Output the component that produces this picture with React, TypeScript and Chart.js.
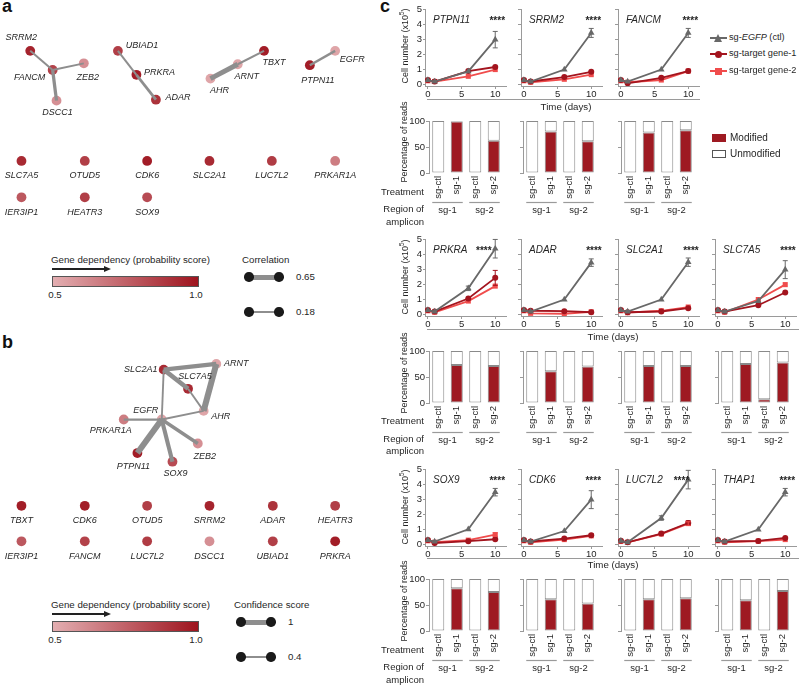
import React, { useEffect, useRef } from "react";
import { Chart, registerables } from "chart.js";
Chart.register(...registerables);

const FONT = "'Liberation Sans', Arial, Helvetica, sans-serif";
const TXT = "#262626";
const AXIS = "#9a9a9a";
const C_CTL = "#686868";
const C_SG1 = "#a3141e";
const C_SG2 = "#f04c4c";
const C_MOD = "#9e1a22";
const EDGE = "#8e8e8e";

Chart.defaults.font.family = FONT;
Chart.defaults.color = TXT;

// ================= Panel c data =================
const DAYS = [0, 1, 6, 10];
const GENES = ["PTPN11", "SRRM2", "FANCM", "PRKRA", "ADAR", "SLC2A1", "SLC7A5", "SOX9", "CDK6", "LUC7L2", "THAP1"];
const CTL = [
  [0.3, 0.2, 0.88, 3.0],
  [0.3, 0.2, 1.0, 3.45],
  [0.3, 0.2, 1.0, 3.45],
  [0.3, 0.2, 1.75, 4.4],
  [0.3, 0.2, 1.0, 3.47],
  [0.3, 0.2, 1.0, 3.5],
  [0.3, 0.2, 0.9, 3.0],
  [0.3, 0.2, 1.02, 3.5],
  [0.3, 0.2, 0.9, 3.0],
  [0.25, 0.15, 1.77, 4.34],
  [0.3, 0.2, 1.0, 3.5],
];
const CTL_ERR = [
  [0.05, 0.03, 0.1, 0.55],
  [0.05, 0.03, 0.08, 0.3],
  [0.05, 0.03, 0.08, 0.3],
  [0.05, 0.03, 0.15, 0.62],
  [0.05, 0.03, 0.08, 0.25],
  [0.05, 0.03, 0.08, 0.28],
  [0.05, 0.03, 0.1, 0.6],
  [0.05, 0.03, 0.08, 0.25],
  [0.05, 0.03, 0.1, 0.6],
  [0.05, 0.03, 0.15, 0.62],
  [0.05, 0.03, 0.08, 0.25],
];
const SG1 = [
  [0.3, 0.2, 0.9, 1.17],
  [0.3, 0.2, 0.5, 0.85],
  [0.3, 0.08, 0.45, 0.9],
  [0.3, 0.2, 1.07, 2.45],
  [0.3, 0.25, 0.22, 0.15],
  [0.3, 0.15, 0.2, 0.42],
  [0.3, 0.2, 0.62, 1.47],
  [0.3, 0.1, 0.22, 0.35],
  [0.3, 0.2, 0.4, 0.62],
  [0.25, 0.15, 0.73, 1.44],
  [0.3, 0.2, 0.24, 0.44],
];
const SG1_ERR = [
  [0.03, 0.02, 0.05, 0.08],
  [0.03, 0.02, 0.05, 0.08],
  [0.03, 0.02, 0.05, 0.08],
  [0.03, 0.02, 0.08, 0.5],
  [0.03, 0.02, 0.04, 0.05],
  [0.03, 0.02, 0.04, 0.06],
  [0.03, 0.02, 0.05, 0.08],
  [0.03, 0.02, 0.04, 0.05],
  [0.03, 0.02, 0.05, 0.08],
  [0.03, 0.02, 0.06, 0.15],
  [0.03, 0.02, 0.04, 0.05],
];
const SG2 = [
  [0.25, 0.2, 0.55, 1.0],
  [0.25, 0.15, 0.35, 0.66],
  [0.25, 0.15, 0.3, 0.9],
  [0.25, 0.15, 0.9, 1.9],
  [0.25, 0.08, 0.05, 0.18],
  [0.25, 0.12, 0.25, 0.5],
  [0.25, 0.15, 1.0, 2.0],
  [0.25, 0.15, 0.29, 0.66],
  [0.25, 0.15, 0.33, 0.58],
  [0.2, 0.15, 0.7, 1.4],
  [0.25, 0.15, 0.22, 0.33],
];
const SG2_ERR = [
  [0.03, 0.02, 0.05, 0.06],
  [0.03, 0.02, 0.05, 0.06],
  [0.03, 0.02, 0.05, 0.06],
  [0.03, 0.02, 0.06, 0.1],
  [0.03, 0.02, 0.03, 0.05],
  [0.03, 0.02, 0.04, 0.06],
  [0.03, 0.02, 0.06, 0.08],
  [0.03, 0.02, 0.05, 0.12],
  [0.03, 0.02, 0.05, 0.08],
  [0.03, 0.02, 0.06, 0.12],
  [0.03, 0.02, 0.04, 0.05],
];
const SIGNIF = "****";

// CRISPR reads (% modified); unmodified is the remainder to 100
const READ_CATS = ["sg-ctl", "sg-1", "sg-ctl", "sg-2"];
const AMPLICON_GROUPS = ["sg-1", "sg-2"];
const MODIFIED = [
  [0, 99, 0, 62],
  [0, 80, 0, 61],
  [0, 78, 0, 82],
  [0, 73, 0, 71],
  [0, 61, 0, 70],
  [0, 71, 0, 71],
  [0, 75, 7, 78],
  [0, 82, 0, 75],
  [0, 61, 0, 53],
  [0, 61, 0, 63],
  [0, 59, 0, 77],
];

// ================= Panels a / b data =================
const DEPENDENCY: Record<string, number> = {
  SRRM2: 0.95, FANCM: 0.85, ZEB2: 0.6, DSCC1: 0.6, UBIAD1: 0.86, PRKRA: 0.97, ADAR: 0.9,
  TBXT: 0.97, ARNT: 0.53, AHR: 0.53, EGFR: 0.53, PTPN11: 0.97, SLC7A5: 0.93, OTUD5: 0.86,
  CDK6: 0.97, SLC2A1: 0.93, LUC7L2: 0.87, PRKAR1A: 0.66, IER3IP1: 0.78, HEATR3: 0.86, SOX9: 0.82,
};
const A_NODES = ["SRRM2", "FANCM", "ZEB2", "DSCC1", "UBIAD1", "PRKRA", "ADAR", "TBXT", "ARNT", "AHR", "EGFR", "PTPN11",
  "SLC7A5", "OTUD5", "CDK6", "SLC2A1", "LUC7L2", "PRKAR1A", "IER3IP1", "HEATR3", "SOX9"];
const A_EDGES: [string, string, number][] = [
  ["SRRM2", "FANCM", 0.25], ["FANCM", "ZEB2", 0.22], ["FANCM", "DSCC1", 0.42],
  ["UBIAD1", "PRKRA", 0.25], ["PRKRA", "ADAR", 0.35],
  ["TBXT", "ARNT", 0.25], ["ARNT", "AHR", 0.65],
  ["PTPN11", "EGFR", 0.3],
];
const B_NODES = ["SLC2A1", "ARNT", "SLC7A5", "AHR", "EGFR", "PRKAR1A", "ZEB2", "PTPN11", "SOX9",
  "TBXT", "CDK6", "OTUD5", "SRRM2", "ADAR", "HEATR3", "IER3IP1", "FANCM", "LUC7L2", "DSCC1", "UBIAD1", "PRKRA"];
const B_EDGES: [string, string, number][] = [
  ["SLC2A1", "ARNT", 0.8], ["SLC2A1", "SLC7A5", 0.8], ["ARNT", "AHR", 1.0], ["SLC7A5", "AHR", 0.45],
  ["SLC2A1", "EGFR", 0.45], ["EGFR", "AHR", 0.45], ["EGFR", "PRKAR1A", 0.5], ["EGFR", "PTPN11", 1.0],
  ["EGFR", "SOX9", 0.75], ["EGFR", "ZEB2", 0.65],
];

// ---- layout (positions in page pixels) ----
const A_POS: Record<string, [number, number]> = {
  SRRM2: [26, 48], FANCM: [49, 68], ZEB2: [81, 61], DSCC1: [53, 100],
  UBIAD1: [116, 48], PRKRA: [135, 73], ADAR: [155, 99],
  TBXT: [266, 48], ARNT: [239, 62], AHR: [211, 77],
  EGFR: [339, 48], PTPN11: [313, 63],
  SLC7A5: [17, 163], OTUD5: [82, 163], CDK6: [146, 163], SLC2A1: [210, 163], LUC7L2: [274, 163], PRKAR1A: [339, 163],
  IER3IP1: [17, 201], HEATR3: [82, 201], SOX9: [146, 201],
};
const A_LBL: Record<string, [number, number]> = {
  SRRM2: [-9, -13], FANCM: [-23, 7], ZEB2: [4, 14], DSCC1: [1, 12],
  UBIAD1: [24, -5], PRKRA: [23, -2], ADAR: [22, -2],
  TBXT: [10, 12], ARNT: [9, 12], AHR: [9, 12], EGFR: [17, 9], PTPN11: [8, 15],
};
const B_POS: Record<string, [number, number]> = {
  SLC2A1: [163, 366], ARNT: [217, 360], SLC7A5: [188, 386], AHR: [204, 409], EGFR: [161, 418],
  PRKAR1A: [122, 418], ZEB2: [198, 443], PTPN11: [136, 453], SOX9: [172, 462],
  TBXT: [17, 508], CDK6: [82, 508], OTUD5: [146, 508], SRRM2: [210, 508], ADAR: [275, 508], HEATR3: [339, 508],
  IER3IP1: [17, 545], FANCM: [82, 545], LUC7L2: [146, 545], DSCC1: [210, 545], UBIAD1: [275, 545], PRKRA: [339, 545],
};
const B_LBL: Record<string, [number, number]> = {
  SLC2A1: [-23, 0], ARNT: [20, 0], SLC7A5: [7, -12], AHR: [17, 6], EGFR: [-16, -9],
  PRKAR1A: [-13, 11], ZEB2: [7, 13], PTPN11: [-4, 13], SOX9: [3, 12],
};
const STAR_AT = [10.3, 10.3, 10.3, 8.3, 10.4, 10.4, 10.4, 10.3, 10.3, 9.0, 10.3];
const ROWS = [[0, 1, 2], [3, 4, 5, 6], [7, 8, 9, 10]];
const LINE_X = [425, 521, 618, 715];
const BAR_X = [429, 523, 621, 718];
const LINE_Y0 = [84.5, 314.3, 544.3];
const BAR_Y100 = [120.7, 350.7, 578.7];

// ================= helpers =================
const LO = [227, 174, 177];
const HI = [158, 20, 30];
function depColor(s: number) {
  const t = Math.max(0, Math.min(1, (s - 0.5) / 0.5));
  const c = LO.map((v, i) => Math.round(v + (HI[i] - v) * t));
  return `rgb(${c[0]},${c[1]},${c[2]})`;
}

const errorBars = {
  id: "errorBars",
  afterDatasetsDraw(chart: any) {
    const { ctx, scales } = chart;
    ctx.save();
    chart.data.datasets.forEach((ds: any, di: number) => {
      if (!ds.errs) return;
      const meta = chart.getDatasetMeta(di);
      ctx.strokeStyle = ds.borderColor;
      ctx.lineWidth = 1;
      meta.data.forEach((pt: any, i: number) => {
        const v = ds.data[i].y, e = ds.errs[i];
        const y1 = scales.y.getPixelForValue(v + e), y2 = scales.y.getPixelForValue(v - e);
        if (Math.abs(y2 - y1) < 3) return;
        ctx.beginPath();
        ctx.moveTo(pt.x, y1); ctx.lineTo(pt.x, y2);
        ctx.moveTo(pt.x - 2.5, y1); ctx.lineTo(pt.x + 2.5, y1);
        ctx.moveTo(pt.x - 2.5, y2); ctx.lineTo(pt.x + 2.5, y2);
        ctx.stroke();
      });
    });
    ctx.restore();
  },
};

function lineConfig(g: number, showY: boolean): any {
  const ds = (vals: number[], errs: number[], color: string, style: string, r: number, label: string) => ({
    label, errs,
    data: DAYS.map((d, i) => ({ x: d, y: vals[i] })),
    borderColor: color, backgroundColor: color, pointBackgroundColor: color, pointBorderColor: color,
    pointBorderWidth: 0, pointStyle: style, pointRadius: r, borderWidth: 1.8, showLine: true, tension: 0,
  });
  return {
    type: "scatter",
    data: {
      datasets: [
        ds(CTL[g], CTL_ERR[g], C_CTL, "triangle", 3.8, "sg-EGFP (ctl)"),
        ds(SG1[g], SG1_ERR[g], C_SG1, "circle", 3, "sg-target gene-1"),
        ds(SG2[g], SG2_ERR[g], C_SG2, "rect", 3.6, "sg-target gene-2"),
      ],
    },
    options: {
      responsive: false, animation: false, devicePixelRatio: 1,
      layout: { padding: { top: 4, right: 2, left: 0, bottom: 0 } },
      plugins: { legend: { display: false }, tooltip: { enabled: false } },
      scales: {
        x: {
          type: "linear", min: -0.43, max: 11.6,
          afterBuildTicks: (s: any) => { s.ticks = [0, 5, 10].map((v) => ({ value: v })); },
          afterFit: (s: any) => { s.height = 14; s.paddingLeft = 0; s.paddingRight = 0; },
          ticks: { font: { size: 9.5 }, color: TXT, padding: 0, maxRotation: 0 },
          grid: { display: true, drawOnChartArea: false, drawTicks: true, tickLength: 3, color: AXIS },
          border: { color: AXIS, width: 1 },
        },
        y: {
          min: -0.1, max: 5.05,
          afterBuildTicks: (s: any) => { s.ticks = [0, 1, 2, 3, 4, 5].map((v) => ({ value: v })); },
          afterFit: (s: any) => { s.width = 18; s.paddingTop = 0; s.paddingBottom = 0; },
          ticks: { display: showY, font: { size: 9.5 }, color: TXT, padding: 1 },
          grid: { display: true, drawOnChartArea: false, drawTicks: true, tickLength: showY ? 2 : 3, color: AXIS },
          border: { color: AXIS, width: 1 },
        },
      },
    },
    plugins: [
      errorBars,
      {
        id: "title" + g,
        afterDraw(chart: any) {
          const { ctx, chartArea, scales } = chart;
          ctx.save();
          ctx.fillStyle = TXT;
          ctx.textBaseline = "alphabetic";
          ctx.font = `italic 10px ${FONT}`;
          ctx.textAlign = "left";
          ctx.fillText(GENES[g], chartArea.left + 8, chartArea.top + 14);
          ctx.font = `bold 10px ${FONT}`;
          ctx.textAlign = "center";
          ctx.fillText(SIGNIF, scales.x.getPixelForValue(STAR_AT[g]), chartArea.top + 15);
          ctx.restore();
        },
      },
    ],
  };
}

function barConfig(g: number, showY: boolean): any {
  const mod = MODIFIED[g];
  const unmod = mod.map((v) => 100 - v);
  const common = { borderColor: "#8a8a8a", borderWidth: 1, borderSkipped: false, barPercentage: 0.65, categoryPercentage: 1 };
  return {
    type: "bar",
    data: {
      labels: READ_CATS,
      datasets: [
        { label: "Modified", data: mod, backgroundColor: C_MOD, ...common },
        { label: "Unmodified", data: unmod, backgroundColor: "#ffffff", ...common },
      ],
    },
    options: {
      responsive: false, animation: false, devicePixelRatio: 1,
      layout: { padding: { top: 4, right: 2, left: 0, bottom: 18 } },
      plugins: { legend: { display: false }, tooltip: { enabled: false } },
      scales: {
        x: {
          stacked: true,
          afterFit: (s: any) => { s.height = 27; s.paddingLeft = 0; s.paddingRight = 0; },
          ticks: { font: { size: 9.5 }, color: TXT, padding: 3, minRotation: 90, maxRotation: 90, autoSkip: false },
          grid: { display: false, drawTicks: false, tickLength: 0 },
          border: { display: false },
        },
        y: {
          stacked: true, min: 0, max: 100,
          afterBuildTicks: (s: any) => { s.ticks = [0, 50, 100].map((v) => ({ value: v })); },
          afterFit: (s: any) => { s.width = 30; s.paddingTop = 0; s.paddingBottom = 0; },
          ticks: { display: showY, font: { size: 9.5 }, color: TXT, padding: 1 },
          grid: { display: true, drawOnChartArea: false, drawTicks: true, tickLength: 3, color: AXIS },
          border: { color: AXIS, width: 1 },
        },
      },
    },
    plugins: [
      {
        id: "groups" + g,
        afterDraw(chart: any) {
          const { ctx, chartArea, scales } = chart;
          ctx.save();
          ctx.strokeStyle = AXIS;
          ctx.lineWidth = 1.2;
          ctx.fillStyle = TXT;
          ctx.font = `9.5px ${FONT}`;
          ctx.textAlign = "center";
          ctx.textBaseline = "middle";
          AMPLICON_GROUPS.forEach((lab, k) => {
            const x1 = scales.x.getPixelForValue(2 * k) - 6;
            const x2 = scales.x.getPixelForValue(2 * k + 1) + 6;
            const y = chartArea.bottom + 29.5;
            ctx.beginPath(); ctx.moveTo(x1, y); ctx.lineTo(x2, y); ctx.stroke();
            ctx.fillText(lab, (x1 + x2) / 2, chartArea.bottom + 37);
          });
          ctx.restore();
        },
      },
    ],
  };
}

function netConfig(nodes: string[], edges: [string, string, number][], pos: any, lbl: any,
  width: (c: number) => number, w: number, yTop: number, h: number): any {
  const edgeSets = edges.map(([a, b, c]) => ({
    data: [{ x: pos[a][0], y: pos[a][1] }, { x: pos[b][0], y: pos[b][1] }],
    showLine: true, borderColor: EDGE, borderWidth: width(c), pointRadius: 0, borderCapStyle: "butt",
  }));
  const nodeSet = {
    data: nodes.map((n) => ({ x: pos[n][0], y: pos[n][1] })),
    pointBackgroundColor: nodes.map((n) => depColor(DEPENDENCY[n])),
    pointBorderWidth: 0, pointRadius: 4.9, showLine: false,
  };
  return {
    type: "scatter",
    data: { datasets: [...edgeSets, nodeSet] },
    options: {
      responsive: false, animation: false, devicePixelRatio: 1,
      layout: { padding: 0 },
      plugins: { legend: { display: false }, tooltip: { enabled: false } },
      scales: {
        x: { type: "linear", display: false, min: 0, max: w },
        y: { type: "linear", display: false, min: yTop, max: yTop + h, reverse: true },
      },
    },
    plugins: [
      {
        id: "netLabels",
        afterDatasetsDraw(chart: any) {
          const { ctx, scales } = chart;
          ctx.save();
          ctx.font = `italic 9px ${FONT}`;
          ctx.fillStyle = TXT;
          ctx.textAlign = "center";
          ctx.textBaseline = "middle";
          nodes.forEach((n) => {
            const off = lbl[n] || [0, 15];
            ctx.fillText(n, scales.x.getPixelForValue(pos[n][0]) + off[0], scales.y.getPixelForValue(pos[n][1]) + off[1]);
          });
          ctx.restore();
        },
      },
    ],
  };
}

// ================= components =================
function ChartCanvas({ left, top, width, height, make }: any) {
  const ref = useRef<HTMLCanvasElement>(null);
  useEffect(() => {
    const chart = new Chart(ref.current as HTMLCanvasElement, make());
    return () => chart.destroy();
  }, []);
  return (
    <canvas ref={ref} width={width} height={height}
      style={{ position: "absolute", left, top, width, height, display: "block" }} />
  );
}

function Txt({ x, y, size = 9.5, align = "left", italic = false, bold = false, rotate = false, children, color = TXT }: any) {
  const tx = align === "left" ? "0" : align === "center" ? "-50%" : "-100%";
  return (
    <div style={{
      position: "absolute", left: x, top: y,
      transform: rotate ? "translate(-50%,-50%) rotate(-90deg)" : `translate(${tx},-50%)`,
      fontFamily: FONT, fontSize: size, fontStyle: italic ? "italic" : "normal",
      fontWeight: bold ? "bold" : "normal", lineHeight: 1, whiteSpace: "nowrap", color,
    }}>{children}</div>
  );
}

function Box({ x, y, w, h, bg, border, radius }: any) {
  return <div style={{ position: "absolute", left: x, top: y, width: w, height: h, background: bg, border, borderRadius: radius, boxSizing: "border-box" }} />;
}

function DepLegend({ top }: any) {
  return (
    <>
      <Txt x={51} y={top} size={9.7}>Gene dependency (probability score)</Txt>
      <Box x={52} y={top + 8.4} w={53} h={1.3} bg="#222" />
      <div style={{ position: "absolute", left: 104, top: top + 6, width: 0, height: 0, borderTop: "3px solid transparent", borderBottom: "3px solid transparent", borderLeft: "7px solid #222" }} />
      <Box x={52} y={top + 16} w={147} h={11} border="1px solid #555"
        bg={`linear-gradient(to right, ${depColor(0.5)}, ${depColor(1.0)})`} />
      <Txt x={55} y={top + 35} size={9.7} align="center">0.5</Txt>
      <Txt x={196} y={top + 35} size={9.7} align="center">1.0</Txt>
    </>
  );
}

function EdgeLegend({ x1, x2, y, w, label }: any) {
  return (
    <>
      <Box x={x1} y={y - w / 2} w={x2 - x1} h={w} bg={EDGE} />
      <Box x={x1 - 4.7} y={y - 4.7} w={9.4} h={9.4} bg="#1a1a1a" radius="50%" />
      <Box x={x2 - 4.7} y={y - 4.7} w={9.4} h={9.4} bg="#1a1a1a" radius="50%" />
      <Txt x={x2 + 17} y={y} size={9.7}>{label}</Txt>
    </>
  );
}

function LineLegendItem({ y, color, shape, children }: any) {
  let marker: any;
  if (shape === "tri") {
    marker = <div style={{ position: "absolute", left: 714, top: y - 4.5, width: 0, height: 0, borderLeft: "4.5px solid transparent", borderRight: "4.5px solid transparent", borderBottom: `8px solid ${color}` }} />;
  } else if (shape === "circle") {
    marker = <Box x={715} y={y - 3.5} w={7} h={7} bg={color} radius="50%" />;
  } else {
    marker = <Box x={715} y={y - 3.5} w={7} h={7} bg={color} />;
  }
  return (
    <>
      <Box x={710} y={y - 1} w={17} h={2} bg={color} />
      {marker}
      <Txt x={729} y={y} size={9.2}>{children}</Txt>
    </>
  );
}

export default function App() {
  const PXU = 77 / 5.15;
  const els: any[] = [];
  ROWS.forEach((genes, r) => {
    genes.forEach((g, c) => {
      els.push(
        <ChartCanvas key={"l" + g} left={LINE_X[c] - 18} top={Math.round(LINE_Y0[r] - 5.05 * PXU - 4)}
          width={103} height={95} make={() => lineConfig(g, c === 0)} />
      );
      els.push(
        <ChartCanvas key={"b" + g} left={BAR_X[c] - 30} top={Math.round(BAR_Y100[r] - 4)}
          width={106} height={101} make={() => barConfig(g, c === 0)} />
      );
    });
  });
  const timeY = [107, 337, 565];
  const timeLineY = [99, 329, 558];
  const timeLineEnd = [700, 799, 799];
  const timeX = [566, 613, 613];
  const cellY = [46, 277, 507];
  const pctY = [142, 373, 601];
  const barBottom = [172.7, 402.3, 630.7];

  return (
    <div style={{ position: "absolute", left: 0, top: 0, width: 799, height: 685, background: "#fff", overflow: "hidden" }}>
      {/* panel letters */}
      <div style={{ position: "absolute", left: 2, top: -3, fontFamily: FONT, fontWeight: "bold", fontSize: 18, lineHeight: 1, color: "#111" }}>a</div>
      <div style={{ position: "absolute", left: 2, top: 333, fontFamily: FONT, fontWeight: "bold", fontSize: 18, lineHeight: 1, color: "#111" }}>b</div>
      <div style={{ position: "absolute", left: 380, top: -3, fontFamily: FONT, fontWeight: "bold", fontSize: 18, lineHeight: 1, color: "#111" }}>c</div>

      {/* panel a */}
      <ChartCanvas left={0} top={0} width={380} height={230}
        make={() => netConfig(A_NODES, A_EDGES, A_POS, A_LBL, (c) => 1.5 + ((c - 0.18) / 0.47) * 3.5, 380, 0, 230)} />
      <DepLegend top={260} />
      <Txt x={242} y={260} size={9.7}>Correlation</Txt>
      <EdgeLegend x1={249} x2={279} y={277} w={5} label="0.65" />
      <EdgeLegend x1={249} x2={279} y={312} w={1.5} label="0.18" />

      {/* panel b */}
      <ChartCanvas left={0} top={335} width={380} height={240}
        make={() => netConfig(B_NODES, B_EDGES, B_POS, B_LBL, (c) => 1.5 + ((c - 0.4) / 0.6) * 4.5, 380, 335, 240)} />
      <DepLegend top={605} />
      <Txt x={234} y={605} size={9.7}>Confidence score</Txt>
      <EdgeLegend x1={241} x2={271} y={622} w={5} label="1" />
      <EdgeLegend x1={241} x2={271} y={657} w={1.5} label="0.4" />

      {/* panel c */}
      {els}
      {[0, 1, 2].map((r) => (
        <React.Fragment key={"r" + r}>
          <Box x={427} y={timeLineY[r]} w={timeLineEnd[r] - 427} h={1.2} bg={AXIS} />
          <Txt x={timeX[r]} y={timeY[r]} size={9.7} align="center">Time (days)</Txt>
          <Txt x={405} y={cellY[r]} size={9} rotate>Cell number (x10<span style={{ fontSize: "0.7em", verticalAlign: "super", lineHeight: 0 }}>5</span>)</Txt>
          <Txt x={404} y={pctY[r]} size={9} rotate>Percentage of reads</Txt>
          <Txt x={424} y={barBottom[r] + 19} size={9.5} align="right">Treatment</Txt>
          <Txt x={424} y={barBottom[r] + 36.5} size={9.5} align="right">Region of</Txt>
          <Txt x={424} y={barBottom[r] + 49} size={9.5} align="right">amplicon</Txt>
        </React.Fragment>
      ))}

      {/* legends */}
      <LineLegendItem y={38} color={C_CTL} shape="tri">sg-<i>EGFP</i> (ctl)</LineLegendItem>
      <LineLegendItem y={54} color={C_SG1} shape="circle">sg-target gene-1</LineLegendItem>
      <LineLegendItem y={71} color={C_SG2} shape="square">sg-target gene-2</LineLegendItem>
      <Box x={712} y={134} w={14} h={8} bg={C_MOD} />
      <Txt x={730} y={138} size={10}>Modified</Txt>
      <Box x={712} y={150} w={14} h={8} bg="#fff" border="1px solid #555" />
      <Txt x={730} y={154} size={10}>Unmodified</Txt>
    </div>
  );
}
